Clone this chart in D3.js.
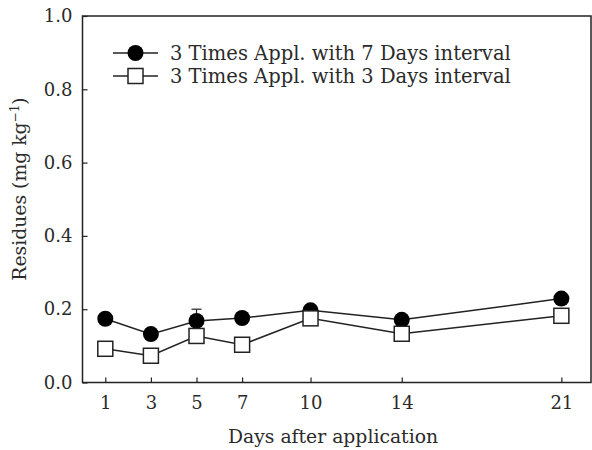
<!DOCTYPE html>
<html>
<head>
<meta charset="utf-8">
<script src="https://cdn.jsdelivr.net/npm/d3@7"></script>
<style>
  body { margin: 0; background: #fff; }
  text { font-family: "DejaVu Serif", serif; fill: #2a2a2a; }
</style>
</head>
<body>
<div id="chart"></div>
<script>
const days = [1, 3, 5, 7, 10, 14, 21];
const sevenDay = [0.174, 0.132, 0.168, 0.176, 0.197, 0.171, 0.229];
const sevenDayErr = [0.006, 0.006, 0.032, 0.008, 0.006, 0.006, 0.008];
const threeDay = [0.092, 0.073, 0.127, 0.103, 0.175, 0.133, 0.182];
const yTicks = [0.0, 0.2, 0.4, 0.6, 0.8, 1.0];
const legendLabels = ['3 Times Appl. with 7 Days interval', '3 Times Appl. with 3 Days interval'];

const w = 592, h = 450;
const plotLeft = 82.5, plotRight = 591, plotTop = 16, plotBottom = 382.5;

const svg = d3.select('#chart').append('svg')
  .attr('width', w)
  .attr('height', h);

const xScale = d3.scaleLinear().domain([0, 22.3]).range([plotLeft, plotRight]);
const yScale = d3.scaleLinear().domain([0, 1]).range([plotBottom, plotTop]);

// frame
svg.append('rect')
  .attr('x', plotLeft).attr('y', plotTop)
  .attr('width', plotRight - plotLeft).attr('height', plotBottom - plotTop)
  .attr('fill', 'none').attr('stroke', '#222').attr('stroke-width', 1.5);

const xAxis = d3.axisBottom(xScale).tickValues(days).tickSize(-5).tickPadding(14).tickFormat(d3.format('d'));
const yAxis = d3.axisLeft(yScale).tickValues(yTicks).tickSize(-5).tickPadding(10).tickFormat(d3.format('.1f'));

const gx = svg.append('g').attr('transform', 'translate(0,' + plotBottom + ')').call(xAxis);
const gy = svg.append('g').attr('transform', 'translate(' + plotLeft + ',0)').call(yAxis);
[gx, gy].forEach(g => {
  g.select('.domain').remove();
  g.selectAll('line').attr('stroke', '#222').attr('stroke-width', 1.2);
  g.selectAll('text').attr('font-size', 18).attr('font-family', '"DejaVu Serif", serif').attr('fill', '#2a2a2a');
});

svg.append('text')
  .attr('x', 333).attr('y', 443)
  .attr('text-anchor', 'middle')
  .attr('font-size', 18.8)
  .text('Days after application');

const ylab = svg.append('text')
  .attr('transform', 'translate(26,' + 189 + ') rotate(-90)')
  .attr('text-anchor', 'middle')
  .attr('font-size', 18.8);
ylab.append('tspan').text('Residues (mg kg');
ylab.append('tspan').attr('baseline-shift', 'super').attr('font-size', 12).text('\u22121');
ylab.append('tspan').text(')');

const line = d3.line().x((d, i) => xScale(days[i])).y(d => yScale(d));

// error bars
const eb = svg.append('g').attr('stroke', '#222').attr('stroke-width', 1.2);
sevenDay.forEach((v, i) => {
  const x = xScale(days[i]);
  eb.append('line').attr('x1', x).attr('x2', x).attr('y1', yScale(v - sevenDayErr[i])).attr('y2', yScale(v + sevenDayErr[i]));
  eb.append('line').attr('x1', x - 5).attr('x2', x + 5).attr('y1', yScale(v + sevenDayErr[i])).attr('y2', yScale(v + sevenDayErr[i]));
});

svg.append('path').datum(sevenDay).attr('d', line)
  .attr('fill', 'none').attr('stroke', '#222').attr('stroke-width', 1.5);
svg.append('path').datum(threeDay).attr('d', line)
  .attr('fill', 'none').attr('stroke', '#222').attr('stroke-width', 1.5);

svg.append('g').selectAll('circle').data(sevenDay).enter().append('circle')
  .attr('cx', (d, i) => xScale(days[i]))
  .attr('cy', d => yScale(d))
  .attr('r', 8)
  .attr('fill', '#000');

svg.append('g').selectAll('rect').data(threeDay).enter().append('rect')
  .attr('x', (d, i) => xScale(days[i]) - 7.5)
  .attr('y', d => yScale(d) - 7.5)
  .attr('width', 15).attr('height', 15)
  .attr('fill', '#fff').attr('stroke', '#222').attr('stroke-width', 1.5);

// legend
const legend = svg.append('g')
  .selectAll('g').data(legendLabels).enter().append('g')
  .attr('transform', (d, i) => 'translate(0,' + (53 + i * 23) + ')');
legend.append('line').attr('x1', 113).attr('x2', 158).attr('y1', 0).attr('y2', 0)
  .attr('stroke', '#222').attr('stroke-width', 1.5);
legend.filter((d, i) => i === 0).append('circle').attr('cx', 135.5).attr('cy', 0).attr('r', 8).attr('fill', '#000');
legend.filter((d, i) => i === 1).append('rect').attr('x', 128).attr('y', -7.5).attr('width', 15).attr('height', 15)
  .attr('fill', '#fff').attr('stroke', '#222').attr('stroke-width', 1.5);
legend.append('text').attr('x', 170).attr('y', 6.5).attr('font-size', 19.5).text(d => d);
</script>
</body>
</html>
